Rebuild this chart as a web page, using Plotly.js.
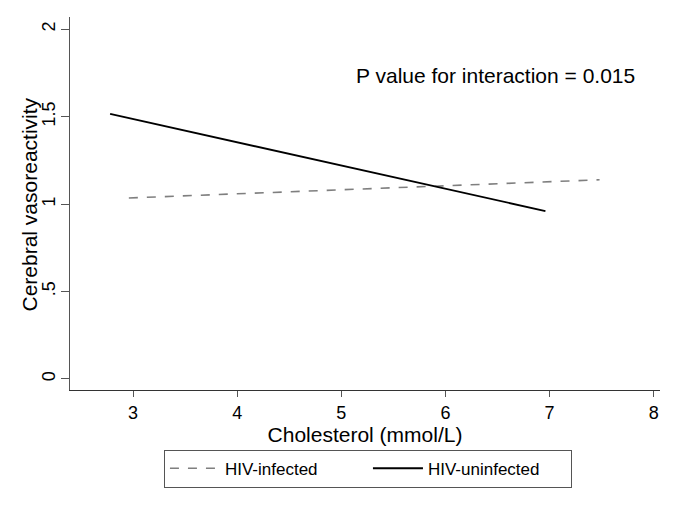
<!DOCTYPE html>
<html><head><meta charset="utf-8">
<script src="https://cdn.plot.ly/plotly-3.0.1.min.js"></script>
<style>html,body{margin:0;padding:0;background:#fff}#c{width:682px;height:507px}</style>
</head><body><div id="c"></div>
<script>
const infectedX = [2.96, 7.48];
const infectedY = [1.035, 1.139];
const uninfectedX = [2.78, 6.96];
const uninfectedY = [1.516, 0.96];
const yTickVals = [0, 0.5, 1, 1.5, 2];
const yTickText = ["0", ".5", "1", "1.5", "2"];
const xTickVals = [3, 4, 5, 6, 7, 8];
const seriesNames = ["HIV-infected", "HIV-uninfected"];
const annotationText = "P value for interaction = 0.015";
const yTitle = "Cerebral vasoreactivity";

const font = "Liberation Sans, Arial, Helvetica, sans-serif";
const traces = [
  {x: infectedX, y: infectedY, mode: "lines", name: seriesNames[0],
   line: {color: "#7f7f7f", width: 1.6, dash: "dash"}},
  {x: uninfectedX, y: uninfectedY, mode: "lines", name: seriesNames[1],
   line: {color: "#000000", width: 1.8}}
];
const layout = {
  width: 682, height: 507,
  margin: {l: 70, r: 22, t: 17, b: 117},
  paper_bgcolor: "#fff", plot_bgcolor: "#fff",
  font: {family: font, color: "#000"},
  showlegend: true,
  legend: {orientation: "h", x: 0.505, xanchor: "center", y: -0.16, yanchor: "top",
    bordercolor: "#555", borderwidth: 1, font: {size: 17, family: font},
    itemwidth: 50, entrywidth: 138, tracegroupgap: 0},
  xaxis: {range: [2.395, 8.06], tickvals: xTickVals, ticks: "outside", ticklen: 6,
    tickcolor: "#555", showline: true, linecolor: "#333", linewidth: 1,
    showgrid: false, zeroline: false, tickfont: {size: 18},
    title: {text: "Cholesterol (mmol/L)", font: {size: 21}, standoff: 2}},
  yaxis: {range: [-0.063, 2.07], tickvals: yTickVals, ticktext: yTickText,
    tickangle: -90, ticks: "outside", ticklen: 8, tickcolor: "#555",
    ticklabelstandoff: -1,
    showline: true, linecolor: "#555", linewidth: 1,
    showgrid: false, zeroline: false, tickfont: {size: 18}},
  annotations: [
    {x: 6.48, y: 1.737, xref: "x", yref: "y", text: annotationText,
     showarrow: false, font: {size: 21, family: font}},
    {x: -0.068, y: 0.497, xref: "paper", yref: "paper", text: yTitle,
     textangle: -90, xanchor: "center", yanchor: "middle",
     showarrow: false, font: {size: 21, family: font}}
  ]
};
Plotly.newPlot("c", traces, layout, {displayModeBar: false, staticPlot: true});
</script></body></html>
